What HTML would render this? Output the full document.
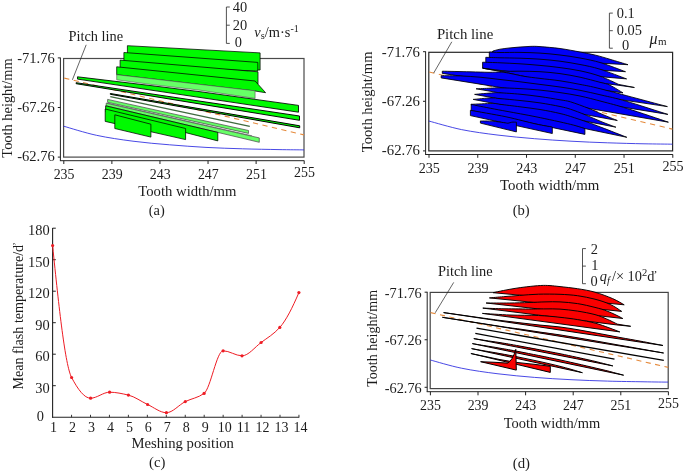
<!DOCTYPE html>
<html><head><meta charset="utf-8"><title>Figure</title>
<style>
html,body{margin:0;padding:0;background:#fff;}
svg{display:block;font-family:"Liberation Serif",serif;fill:#1c1c1c;}
</style></head><body>
<svg width="685" height="471" viewBox="0 0 685 471">
<rect width="685" height="471" fill="#fff"/>
<rect x="63.6" y="58.5" width="240.4" height="98.6" fill="none" stroke="#4a4a4a" stroke-width="1.2"/>
<line x1="60.4" y1="57.6" x2="60.4" y2="160.7" stroke="#222" stroke-width="1" />
<line x1="59.9" y1="160.7" x2="304.3" y2="160.7" stroke="#222" stroke-width="1" />
<line x1="57.8" y1="57.9" x2="60.4" y2="57.9" stroke="#222" stroke-width="1" />
<text x="54.8" y="63.1" font-size="14.57" text-anchor="end" >-71.76</text>
<line x1="57.8" y1="107.5" x2="60.4" y2="107.5" stroke="#222" stroke-width="1" />
<text x="54.8" y="112.05" font-size="14.57" text-anchor="end" >-67.26</text>
<line x1="57.8" y1="157.1" x2="60.4" y2="157.1" stroke="#222" stroke-width="1" />
<text x="54.8" y="161.0" font-size="14.57" text-anchor="end" >-62.76</text>
<line x1="63.800000000000004" y1="160.7" x2="63.800000000000004" y2="164.0" stroke="#222" stroke-width="1" />
<text x="64.10000000000001" y="178.5" font-size="13.92" text-anchor="middle" >235</text>
<line x1="111.88" y1="160.7" x2="111.88" y2="164.0" stroke="#222" stroke-width="1" />
<text x="112.17999999999999" y="178.5" font-size="13.92" text-anchor="middle" >239</text>
<line x1="159.96" y1="160.7" x2="159.96" y2="164.0" stroke="#222" stroke-width="1" />
<text x="160.26000000000002" y="178.5" font-size="13.92" text-anchor="middle" >243</text>
<line x1="208.04000000000002" y1="160.7" x2="208.04000000000002" y2="164.0" stroke="#222" stroke-width="1" />
<text x="208.34000000000003" y="178.5" font-size="13.92" text-anchor="middle" >247</text>
<line x1="256.12" y1="160.7" x2="256.12" y2="164.0" stroke="#222" stroke-width="1" />
<text x="256.42" y="178.5" font-size="13.92" text-anchor="middle" >251</text>
<line x1="304.2" y1="160.7" x2="304.2" y2="164.0" stroke="#222" stroke-width="1" />
<text x="304.5" y="176.8" font-size="13.92" text-anchor="middle" >255</text>
<text x="187.4" y="195.7" font-size="14.69" text-anchor="middle" >Tooth width/mm</text>
<text x="156.8" y="215.4" font-size="14.4" text-anchor="middle" >(a)</text>
<text transform="translate(12,108.0) rotate(-90)" font-size="14.4" text-anchor="middle">Tooth height/mm</text>
<g clip-path="none">
<path d="M63.6,126.2 C69.1,127.7 84.9,132.8 96.5,135.3 C108.1,137.8 120.8,139.6 133.0,141.2 C145.2,142.8 157.3,143.8 169.5,144.8 C181.7,145.8 193.8,146.7 206.0,147.4 C218.2,148.1 230.3,148.4 242.5,148.8 C254.7,149.2 268.8,149.4 279.0,149.6 C289.2,149.8 299.8,149.8 304.0,149.9" fill="none" stroke="#2828e0" stroke-width="0.85" />
<line x1="64.2" y1="78.1" x2="304" y2="134.9" stroke="#e58a3c" stroke-width="1.1" stroke-dasharray="5.25,4.45"/>
<polygon points="127.4,45.7 260.1,52.9 260.1,70.0 127.4,60.0" fill="#00fa00" stroke="#000" stroke-width="0.75" stroke-linejoin="miter" />
<polygon points="123.9,52.5 257.8,62.4 257.8,71.0 123.9,66.0" fill="#00fa00" stroke="#000" stroke-width="0.75" stroke-linejoin="miter" />
<polygon points="120.1,60.1 258.0,71.8 258.0,84.0 120.1,72.0" fill="#00fa00" stroke="#000" stroke-width="0.75" stroke-linejoin="miter" />
<polygon points="116.7,66.8 255.1,81.0 265.6,92.7 255.1,91.0 116.7,74.7" fill="#00fa00" stroke="#000" stroke-width="0.75" stroke-linejoin="miter" />
<polygon points="116.7,74.7 150.0,78.6 255.1,90.8 255.1,98.4 200.0,90.2 150.0,84.3 116.7,79.8" fill="#66ff66" stroke="#555" stroke-width="0.6" stroke-linejoin="miter" />
<polygon points="77.5,76.8 150.0,85.5 200.0,91.7 298.5,105.4 298.5,112.2 77.5,79.1" fill="#00fa00" stroke="#000" stroke-width="0.85" stroke-linejoin="miter" />
<polygon points="76.1,82.7 299.5,116.0 299.5,120.3 76.1,83.7" fill="#00fa00" stroke="#000" stroke-width="0.95" stroke-linejoin="miter" />
<polygon points="110.3,93.5 299.7,125.8 299.7,127.8 110.3,94.3" fill="#00fa00" stroke="#000" stroke-width="1.0" stroke-linejoin="miter" />
<line x1="110.3" y1="96.7" x2="249.8" y2="126.3" stroke="#3f6a3f" stroke-width="1.25" />
<polygon points="107.6,99.4 248.5,130.5 248.5,133.4 107.6,102.3" fill="#66ff66" stroke="#444" stroke-width="0.7" stroke-linejoin="miter" />
<line x1="106.7" y1="102.9" x2="252" y2="135.8" stroke="#777" stroke-width="0.8" />
<polygon points="106.2,103.2 259.3,137.9 259.3,142.3 106.2,105.8" fill="#66ff66" stroke="#444" stroke-width="0.7" stroke-linejoin="miter" />
<polygon points="105.6,105.8 217.8,132.4 217.8,140.9 105.6,112.0" fill="#00fa00" stroke="#000" stroke-width="0.75" stroke-linejoin="miter" />
<polygon points="105.2,109.0 185.6,128.5 185.6,139.6 105.2,121.4" fill="#00fa00" stroke="#000" stroke-width="0.75" stroke-linejoin="miter" />
<polygon points="114.8,114.8 150.9,124.2 150.9,137.1 114.8,128.5" fill="#00fa00" stroke="#000" stroke-width="0.75" stroke-linejoin="miter" />
</g>
<text x="68.4" y="41.2" font-size="14.4" text-anchor="start" >Pitch line</text>
<line x1="86.2" y1="44.8" x2="72.4" y2="79.8" stroke="#222" stroke-width="0.7" />
<path d="M229.8,7 H226.4 V43.4 H229.8 M226.4,25.2 H229.8" fill="none" stroke="#333" stroke-width="0.85" />
<text x="232.8" y="12.4" font-size="14.4" text-anchor="start" >40</text>
<text x="232.8" y="29.9" font-size="14.4" text-anchor="start" >20</text>
<text x="234.8" y="46.7" font-size="14.4" text-anchor="start" >0</text>
<text x="254.3" y="37.2" font-size="14.4"><tspan font-style="italic">v</tspan><tspan font-size="10.5" dy="2">s</tspan><tspan dy="-2">/m·s</tspan><tspan font-size="10" dy="-5.5">-1</tspan></text>
<rect x="428.8" y="52.3" width="243.8" height="98.6" fill="none" stroke="#262626" stroke-width="1.2"/>
<line x1="425.6" y1="51.4" x2="425.6" y2="154.49999999999997" stroke="#222" stroke-width="1" />
<line x1="425.1" y1="154.49999999999997" x2="672.9" y2="154.49999999999997" stroke="#222" stroke-width="1" />
<line x1="423.0" y1="51.699999999999996" x2="425.6" y2="51.699999999999996" stroke="#222" stroke-width="1" />
<text x="420.0" y="57.4" font-size="14.78" text-anchor="end" >-71.76</text>
<line x1="423.0" y1="101.3" x2="425.6" y2="101.3" stroke="#222" stroke-width="1" />
<text x="420.0" y="106.35" font-size="14.78" text-anchor="end" >-67.26</text>
<line x1="423.0" y1="150.9" x2="425.6" y2="150.9" stroke="#222" stroke-width="1" />
<text x="420.0" y="155.29999999999998" font-size="14.78" text-anchor="end" >-62.76</text>
<line x1="429.0" y1="154.49999999999997" x2="429.0" y2="157.79999999999998" stroke="#222" stroke-width="1" />
<text x="429.3" y="172.6" font-size="14.12" text-anchor="middle" >235</text>
<line x1="477.76" y1="154.49999999999997" x2="477.76" y2="157.79999999999998" stroke="#222" stroke-width="1" />
<text x="478.06" y="172.6" font-size="14.12" text-anchor="middle" >239</text>
<line x1="526.52" y1="154.49999999999997" x2="526.52" y2="157.79999999999998" stroke="#222" stroke-width="1" />
<text x="526.8199999999999" y="172.6" font-size="14.12" text-anchor="middle" >243</text>
<line x1="575.28" y1="154.49999999999997" x2="575.28" y2="157.79999999999998" stroke="#222" stroke-width="1" />
<text x="575.5799999999999" y="172.6" font-size="14.12" text-anchor="middle" >247</text>
<line x1="624.04" y1="154.49999999999997" x2="624.04" y2="157.79999999999998" stroke="#222" stroke-width="1" />
<text x="624.3399999999999" y="172.6" font-size="14.12" text-anchor="middle" >251</text>
<line x1="672.8" y1="154.49999999999997" x2="672.8" y2="157.79999999999998" stroke="#222" stroke-width="1" />
<text x="673.0999999999999" y="170.79999999999998" font-size="14.12" text-anchor="middle" >255</text>
<text x="549.7" y="190.1" font-size="14.89" text-anchor="middle" >Tooth width/mm</text>
<text x="521.2" y="215.3" font-size="14.6" text-anchor="middle" >(b)</text>
<text transform="translate(372.2,101.8) rotate(-90)" font-size="14.6" text-anchor="middle">Tooth height/mm</text>
<path d="M428.8,121.0 C434.2,122.4 450.0,127.2 461.5,129.6 C473.0,131.9 485.8,133.6 498.0,135.1 C510.2,136.6 522.3,137.7 534.5,138.7 C546.7,139.7 558.8,140.5 571.0,141.2 C583.2,141.9 595.3,142.4 607.5,142.8 C619.7,143.2 633.2,143.6 644.0,143.8 C654.8,144.0 667.7,144.1 672.4,144.2" fill="none" stroke="#2828e0" stroke-width="0.85" />
<line x1="429.2" y1="72.0" x2="672.4" y2="129.1" stroke="#e58a3c" stroke-width="1.1" stroke-dasharray="5.3,4.56"/>
<path d="M492.8,51.1 C494.0,50.8 497.1,49.7 500.0,49.2 C502.9,48.7 506.7,48.3 510.0,47.9 C513.3,47.5 516.7,47.2 520.0,47.0 C523.3,46.8 526.7,46.5 530.0,46.4 C533.3,46.3 535.0,46.2 540.0,46.6 C545.0,47.0 553.3,47.6 560.0,48.5 C566.7,49.4 574.0,50.9 580.0,52.0 C586.0,53.1 590.7,54.0 595.7,55.2 C600.7,56.4 604.6,57.7 610.0,59.3 C615.4,60.9 625.0,63.8 628.0,64.7 L492.8,57.4 Z" fill="#0000f8" stroke="#000" stroke-width="0.85" stroke-linejoin="miter" stroke-miterlimit="10" />
<path d="M492.8,57.4 V51.1" fill="none" stroke="#000" stroke-width="0.9" />
<path d="M489.3,52.0 C491.1,52.1 494.9,52.4 500.0,52.5 C505.1,52.6 513.3,52.3 520.0,52.4 C526.7,52.5 533.3,52.7 540.0,53.1 C546.7,53.5 553.3,54.2 560.0,55.0 C566.7,55.8 573.2,56.7 580.0,58.0 C586.8,59.3 593.4,60.5 601.0,62.8 C608.6,65.1 621.4,70.2 625.5,71.7 L489.3,63.5 Z" fill="#0000f8" stroke="#000" stroke-width="0.85" stroke-linejoin="miter" stroke-miterlimit="10" />
<path d="M485.8,57.3 C488.2,57.4 494.3,57.6 500.0,57.8 C505.7,57.9 513.3,58.0 520.0,58.2 C526.7,58.4 533.3,58.7 540.0,59.2 C546.7,59.7 553.3,60.3 560.0,61.2 C566.7,62.1 573.3,63.2 580.0,64.5 C586.7,65.8 592.2,66.8 600.0,69.2 C607.8,71.6 622.2,77.3 626.6,78.9 L485.8,67.0 Z" fill="#0000f8" stroke="#000" stroke-width="0.85" stroke-linejoin="miter" stroke-miterlimit="10" />
<path d="M482.6,62.2 C485.5,62.3 493.8,62.5 500.0,62.8 C506.2,63.1 513.3,63.4 520.0,63.8 C526.7,64.2 533.3,64.8 540.0,65.4 C546.7,66.0 553.3,66.7 560.0,67.6 C566.7,68.5 573.3,69.4 580.0,70.8 C586.7,72.2 593.5,73.9 600.0,76.2 C606.5,78.5 615.6,83.0 618.7,84.4 L634.4,87.5 L618.0,85.2 L482.6,68.2 Z" fill="#0000f8" stroke="#000" stroke-width="0.85" stroke-linejoin="miter" stroke-miterlimit="10" />
<path d="M482.6,68.2 C485.8,68.7 495.3,70.6 501.5,71.1 C507.7,71.6 513.6,71.1 520.0,71.2 C526.4,71.3 533.3,71.3 540.0,71.7 C546.7,72.1 553.3,72.7 560.0,73.6 C566.7,74.5 573.3,75.8 580.0,77.2 C586.7,78.7 595.0,81.0 600.0,82.3 C605.0,83.6 606.2,83.4 610.0,85.2 C613.8,87.0 620.8,91.6 623.0,92.9 L560.0,84.2 L501.5,71.6 Z" fill="#0000f8" stroke="#000" stroke-width="0.85" stroke-linejoin="miter" stroke-miterlimit="10" />
<path d="M442.3,71.2 C446.9,71.3 462.2,71.6 470.0,71.8 C477.8,72.0 483.8,72.2 489.0,72.3 C494.2,72.3 497.8,71.9 501.5,72.1 C505.2,72.3 507.2,72.9 511.0,73.6 C514.8,74.3 519.2,75.5 524.0,76.3 C528.8,77.1 534.0,77.7 540.0,78.4 C546.0,79.2 553.3,79.8 560.0,80.8 C566.7,81.8 573.0,83.0 580.0,84.4 C587.0,85.8 587.4,85.5 602.0,89.2 C616.6,92.9 656.5,103.7 667.4,106.6 L442.3,73.4 Z" fill="#0000f8" stroke="#000" stroke-width="0.85" stroke-linejoin="miter" stroke-miterlimit="10" />
<path d="M441.2,75.7 C444.4,75.7 454.0,75.7 460.5,75.9 C467.0,76.2 473.4,76.6 480.0,77.2 C486.6,77.8 493.3,78.7 500.0,79.5 C506.7,80.3 513.3,81.0 520.0,81.8 C526.7,82.6 533.3,83.5 540.0,84.4 C546.7,85.3 553.3,86.0 560.0,87.0 C566.7,88.0 573.0,88.9 580.0,90.3 C587.0,91.7 594.4,93.4 602.0,95.2 C609.6,97.0 614.5,97.8 625.5,101.0 C636.5,104.2 660.8,112.2 667.9,114.4 L441.2,77.9 Z" fill="#0000f8" stroke="#000" stroke-width="0.85" stroke-linejoin="miter" stroke-miterlimit="10" />
<path d="M476.1,88.8 C478.4,88.7 486.0,88.4 490.0,88.2 C494.0,88.0 495.0,87.7 500.0,87.8 C505.0,87.9 513.3,88.2 520.0,88.6 C526.7,89.0 533.3,89.4 540.0,90.1 C546.7,90.8 553.3,91.6 560.0,92.6 C566.7,93.6 573.0,94.5 580.0,96.0 C587.0,97.5 594.1,99.4 602.0,101.5 C609.9,103.6 616.4,105.1 627.5,108.6 C638.6,112.0 661.6,119.9 668.4,122.2 Z" fill="#0000f8" stroke="#000" stroke-width="0.85" stroke-linejoin="miter" stroke-miterlimit="10" />
<path d="M474.6,94.4 C477.7,94.1 489.0,93.1 493.2,92.8 C497.4,92.5 495.5,92.6 500.0,92.8 C504.5,93.0 513.3,93.6 520.0,94.2 C526.7,94.8 533.3,95.7 540.0,96.6 C546.7,97.5 554.9,98.9 560.0,99.8 C565.1,100.7 565.9,100.5 570.7,101.9 C575.5,103.4 583.8,106.5 589.0,108.5 C594.2,110.5 597.3,112.2 602.0,114.2 C606.7,116.2 614.8,119.5 617.3,120.5 Z" fill="#0000f8" stroke="#000" stroke-width="0.85" stroke-linejoin="miter" stroke-miterlimit="10" />
<path d="M473.2,99.4 C476.2,99.2 486.7,98.0 491.2,97.9 C495.7,97.8 495.2,98.2 500.0,98.6 C504.8,99.0 513.3,99.8 520.0,100.5 C526.7,101.2 533.3,101.9 540.0,102.9 C546.7,103.9 554.9,105.4 560.0,106.5 C565.1,107.6 566.5,107.9 570.7,109.3 C574.9,110.7 579.8,112.6 585.0,114.7 C590.2,116.8 596.9,119.8 602.0,121.9 C607.1,124.0 613.6,126.3 615.9,127.2 Z" fill="#0000f8" stroke="#000" stroke-width="0.85" stroke-linejoin="miter" stroke-miterlimit="10" />
<path d="M471.2,104.3 C474.7,104.2 487.4,103.4 492.2,103.4 C497.0,103.4 495.4,103.7 500.0,104.3 C504.6,104.9 513.3,105.9 520.0,106.8 C526.7,107.7 533.3,108.4 540.0,109.5 C546.7,110.6 554.9,112.3 560.0,113.5 C565.1,114.7 566.0,115.0 570.7,116.5 C575.4,118.0 582.8,120.5 588.0,122.3 C593.2,124.1 595.5,125.1 602.0,127.6 C608.5,130.1 622.7,135.7 626.8,137.3 L471.2,105.0 Z" fill="#0000f8" stroke="#000" stroke-width="0.85" stroke-linejoin="miter" stroke-miterlimit="10" />
<path d="M471.2,104.3 C472.3,104.5 472.1,104.6 477.9,105.8 C483.7,107.0 496.3,109.4 506.0,111.2 C515.7,113.0 525.2,114.6 536.0,116.8 C546.8,119.0 562.6,122.4 570.7,124.4 C578.9,126.4 582.5,127.9 584.9,128.6 L584.9,134.4 L471.2,110.5 Z" fill="#0000f8" stroke="#000" stroke-width="0.85" stroke-linejoin="miter" stroke-miterlimit="10" />
<path d="M470.4,110.3 C476.3,111.4 495.1,114.5 506.0,116.8 C516.9,119.1 528.3,122.3 536.0,124.0 C543.7,125.7 549.6,126.5 552.3,127.0 L552.3,133.5 L470.4,115.6 Z" fill="#0000f8" stroke="#000" stroke-width="0.85" stroke-linejoin="miter" stroke-miterlimit="10" />
<path d="M480.4,120.9 C482.5,121.0 488.9,120.9 492.8,121.2 C496.7,121.5 501.1,122.3 503.7,122.6 C506.2,122.9 506.8,123.3 508.1,123.2 C509.5,123.1 510.4,122.4 511.8,122.2 C513.2,122.0 515.6,122.2 516.4,122.2 L516.4,131.9 L480.4,123.1 Z" fill="#0000f8" stroke="#000" stroke-width="0.85" stroke-linejoin="miter" stroke-miterlimit="10" />
<text x="436.9" y="38.5" font-size="14.8" text-anchor="start" >Pitch line</text>
<line x1="451.8" y1="41.8" x2="433.7" y2="73" stroke="#222" stroke-width="0.7" />
<path d="M612.8,13.1 H609.4 V48.2 H612.8 M609.4,30.7 H612.8" fill="none" stroke="#333" stroke-width="0.85" />
<text x="616.8" y="17.5" font-size="14.4" text-anchor="start" >0.1</text>
<text x="616.8" y="35" font-size="14.4" text-anchor="start" >0.05</text>
<text x="622" y="50.4" font-size="14.4" text-anchor="start" >0</text>
<text x="649.5" y="43.8" font-size="14.4"><tspan font-style="italic" font-size="16">μ</tspan><tspan font-size="11" dy="1.5" dx="0.5">m</tspan></text>
<rect x="430.2" y="292.4" width="238.0" height="96.2" fill="none" stroke="#444" stroke-width="1.2"/>
<line x1="427.2" y1="291.79999999999995" x2="427.2" y2="391.7" stroke="#222" stroke-width="1" />
<line x1="426.7" y1="391.7" x2="668.5" y2="391.7" stroke="#222" stroke-width="1" />
<line x1="424.59999999999997" y1="292.2" x2="427.2" y2="292.2" stroke="#222" stroke-width="1" />
<text x="421.7" y="297.7" font-size="14.3" text-anchor="end" >-71.76</text>
<line x1="424.59999999999997" y1="339.75" x2="427.2" y2="339.75" stroke="#222" stroke-width="1" />
<text x="421.7" y="345.25" font-size="14.3" text-anchor="end" >-67.26</text>
<line x1="424.59999999999997" y1="387.29999999999995" x2="427.2" y2="387.29999999999995" stroke="#222" stroke-width="1" />
<text x="421.7" y="392.79999999999995" font-size="14.3" text-anchor="end" >-62.76</text>
<line x1="430.4" y1="391.7" x2="430.4" y2="395.3" stroke="#222" stroke-width="1" />
<text x="430.5" y="409.5" font-size="13.9" text-anchor="middle" >235</text>
<line x1="478.0" y1="391.7" x2="478.0" y2="395.3" stroke="#222" stroke-width="1" />
<text x="478.1" y="409.5" font-size="13.9" text-anchor="middle" >239</text>
<line x1="525.6" y1="391.7" x2="525.6" y2="395.3" stroke="#222" stroke-width="1" />
<text x="525.7" y="409.5" font-size="13.9" text-anchor="middle" >243</text>
<line x1="573.2" y1="391.7" x2="573.2" y2="395.3" stroke="#222" stroke-width="1" />
<text x="573.3000000000001" y="409.5" font-size="13.9" text-anchor="middle" >247</text>
<line x1="620.8" y1="391.7" x2="620.8" y2="395.3" stroke="#222" stroke-width="1" />
<text x="620.9" y="409.5" font-size="13.9" text-anchor="middle" >251</text>
<line x1="668.4" y1="391.7" x2="668.4" y2="395.3" stroke="#222" stroke-width="1" />
<text x="668.5" y="407.6" font-size="13.9" text-anchor="middle" >255</text>
<text x="551.9" y="427.9" font-size="14.45" text-anchor="middle" >Tooth width/mm</text>
<text x="521.4" y="467.5" font-size="14.8" text-anchor="middle" >(d)</text>
<text transform="translate(377.0,338.4) rotate(-90)" font-size="14.05" text-anchor="middle">Tooth height/mm</text>
<path d="M430.4,360.0 C435.6,361.4 450.2,365.9 461.5,368.2 C472.8,370.5 485.8,372.3 498.0,373.8 C510.2,375.3 522.3,376.4 534.5,377.4 C546.7,378.4 558.8,379.1 571.0,379.7 C583.2,380.3 595.3,380.8 607.5,381.1 C619.7,381.5 633.9,381.6 644.0,381.8 C654.1,382.0 664.0,382.1 668.0,382.1" fill="none" stroke="#2828e0" stroke-width="0.85" />
<line x1="430.6" y1="312.6" x2="668.2" y2="367.4" stroke="#e58a3c" stroke-width="1.1" stroke-dasharray="5.1,4.5"/>
<path d="M493.2,292.7 C494.9,292.3 499.8,291.2 503.4,290.5 C507.0,289.8 511.1,289.0 515.0,288.4 C518.9,287.8 522.4,287.3 526.7,286.8 C531.0,286.3 536.8,285.7 540.7,285.5 C544.6,285.3 546.8,285.4 550.0,285.6 C553.2,285.8 555.4,286.1 560.0,286.6 C564.6,287.1 571.7,287.8 577.5,288.7 C583.3,289.6 589.1,290.5 595.0,292.2 C600.9,293.9 607.7,296.5 612.6,298.6 C617.5,300.7 622.3,303.8 624.2,304.8 Z" fill="#fa0000" stroke="#000" stroke-width="0.95" stroke-linejoin="miter" stroke-miterlimit="10" />
<path d="M489.4,297.9 C491.7,297.7 498.3,297.1 503.4,296.7 C508.4,296.3 513.9,295.8 519.7,295.4 C525.5,295.0 531.7,294.4 538.4,294.2 C545.1,294.0 553.5,294.1 560.0,294.3 C566.5,294.6 571.7,294.9 577.5,295.7 C583.3,296.5 589.5,297.8 595.0,299.2 C600.5,300.6 605.8,302.4 610.2,304.4 C614.7,306.4 619.8,310.2 621.7,311.4 Z" fill="#fa0000" stroke="#000" stroke-width="0.95" stroke-linejoin="miter" stroke-miterlimit="10" />
<path d="M486.1,303.0 C490.0,303.0 502.1,303.1 509.2,303.0 C516.4,302.9 523.0,302.7 529.0,302.5 C535.0,302.3 539.8,302.0 545.0,301.9 C550.2,301.8 554.6,301.6 560.0,301.9 C565.4,302.2 571.7,302.7 577.5,303.6 C583.3,304.5 590.1,306.2 595.0,307.4 C599.9,308.6 603.2,309.6 606.7,310.9 C610.2,312.2 613.3,313.7 616.0,315.0 C618.7,316.3 621.7,317.9 622.8,318.5 Z" fill="#fa0000" stroke="#000" stroke-width="0.95" stroke-linejoin="miter" stroke-miterlimit="10" />
<path d="M482.8,308.1 C486.5,308.2 496.9,308.7 505.0,308.8 C513.1,308.9 524.7,309.0 531.4,309.0 C538.1,309.0 540.2,308.9 545.0,308.9 C549.8,308.9 554.6,308.7 560.0,309.1 C565.4,309.5 571.7,310.2 577.5,311.1 C583.3,312.0 590.1,313.3 595.0,314.6 C599.9,315.9 603.0,317.4 606.7,319.0 C610.4,320.6 615.5,323.2 617.2,324.1 L630.7,326.3 L616.5,324.9 Z" fill="#fa0000" stroke="#000" stroke-width="0.95" stroke-linejoin="miter" stroke-miterlimit="10" />
<path d="M482.4,313.4 C487.0,313.7 500.7,314.6 510.0,315.0 C519.3,315.4 530.1,315.1 538.4,315.5 C546.7,315.9 553.5,316.6 560.0,317.3 C566.5,318.0 571.7,318.6 577.5,319.6 C583.3,320.6 589.8,321.7 595.0,323.1 C600.2,324.5 604.9,326.3 609.0,327.8 C613.1,329.3 618.0,331.2 619.8,331.9 Z" fill="#fa0000" stroke="#000" stroke-width="0.95" stroke-linejoin="miter" stroke-miterlimit="10" />
<path d="M443.6,312.6 C449.7,313.4 470.6,316.4 480.0,317.7 C489.4,319.0 493.3,319.5 500.0,320.4 C506.7,321.2 513.3,322.0 520.0,322.8 C526.7,323.5 533.3,324.4 540.0,325.1 C546.7,325.8 553.3,326.1 560.0,327.0 C566.7,327.8 573.3,328.9 580.0,330.1 C586.7,331.2 593.3,332.4 600.0,333.7 C606.7,334.9 613.3,336.2 620.0,337.5 C626.7,338.7 634.7,340.1 640.0,341.1 C645.3,342.0 648.2,342.6 652.0,343.4 C655.8,344.1 661.2,345.1 663.0,345.5 Z" fill="#fa0000" stroke="#000" stroke-width="1.0" stroke-linejoin="miter" stroke-miterlimit="10" />
<path d="M442.4,317.3 C452.0,318.8 487.1,324.3 500.0,326.3 C512.9,328.3 513.3,328.2 520.0,329.1 C526.7,330.1 533.3,331.1 540.0,332.1 C546.7,333.0 553.3,333.9 560.0,334.9 C566.7,335.9 573.3,337.1 580.0,338.2 C586.7,339.4 593.3,340.6 600.0,341.7 C606.7,342.9 613.3,344.1 620.0,345.3 C626.7,346.4 632.7,347.5 640.0,348.8 C647.3,350.1 659.7,352.3 663.6,353.0 Z" fill="#fa0000" stroke="#000" stroke-width="1.0" stroke-linejoin="miter" stroke-miterlimit="10" />
<line x1="476.5" y1="328.1" x2="663.8" y2="360.4" stroke="#000" stroke-width="1.3" />
<line x1="475.3" y1="333.4" x2="614.5" y2="359.2" stroke="#000" stroke-width="1.3" />
<path d="M473.8,338.6 C475.7,338.9 480.6,339.7 485.0,340.4 C489.4,341.1 494.2,341.7 500.0,342.6 C505.8,343.6 510.0,344.2 520.0,346.1 C530.0,347.9 548.3,351.4 560.0,353.7 C571.7,356.1 582.5,358.5 590.0,360.2 C597.5,361.9 601.2,362.9 605.0,363.9 C608.8,364.8 611.5,365.6 612.8,365.9 Z" fill="#fa0000" stroke="#000" stroke-width="1.0" stroke-linejoin="miter" stroke-miterlimit="10" />
<path d="M472.4,343.6 C474.5,344.0 480.4,345.0 485.0,345.7 C489.6,346.5 494.2,347.1 500.0,348.2 C505.8,349.2 510.0,349.9 520.0,351.8 C530.0,353.8 546.7,357.0 560.0,359.9 C573.3,362.8 590.8,366.9 600.0,369.1 C609.2,371.2 611.1,371.9 615.0,372.9 C618.9,373.9 622.2,374.8 623.6,375.2 Z" fill="#fa0000" stroke="#000" stroke-width="1.0" stroke-linejoin="miter" stroke-miterlimit="10" />
<path d="M471.6,348.6 C473.8,349.0 480.3,350.2 485.0,351.0 C489.7,351.8 494.2,352.5 500.0,353.6 C505.8,354.6 511.7,355.7 520.0,357.4 C528.3,359.1 541.7,361.9 550.0,363.9 C558.3,365.8 564.6,367.5 570.0,369.0 C575.4,370.5 580.3,372.1 582.4,372.7 Z" fill="#fa0000" stroke="#000" stroke-width="1.0" stroke-linejoin="miter" stroke-miterlimit="10" />
<polygon points="470.9,353.5 500.0,359.6 516.4,362.4 535.0,364.4 550.3,366.3 550.3,372.4" fill="#fa0000" stroke="#000" stroke-width="1.0" stroke-linejoin="miter" />
<path d="M480.6,361.7 L495,362.3 L507.5,363.1 Q512.3,361.0 515.8,349.4 L516.3,370.1 Z" fill="#fa0000" stroke="#000" stroke-width="1.0" stroke-linejoin="miter"/>
<text x="437.9" y="275.9" font-size="14.4" text-anchor="start" >Pitch line</text>
<line x1="453.7" y1="282.4" x2="435.2" y2="312.8" stroke="#222" stroke-width="0.7" />
<path d="M585.9,248.6 H582.5 V283.7 H585.9 M582.5,266.1 H585.9" fill="none" stroke="#333" stroke-width="0.85" />
<text x="590.8" y="253.5" font-size="14.4" text-anchor="start" >2</text>
<text x="591.3" y="270.2" font-size="14.4" text-anchor="start" >1</text>
<text x="590.6" y="285.9" font-size="14.4" text-anchor="start" >0</text>
<text x="599.8" y="281.2" font-size="14.4"><tspan font-style="italic">q</tspan><tspan font-style="italic" font-size="10.5" dy="2.5">f</tspan><tspan dy="-2.5" dx="2">/×</tspan><tspan dx="3.5">10</tspan><tspan font-size="10.5" dy="-5.5">2</tspan><tspan dy="5.5">ď</tspan></text>
<line x1="52.6" y1="228" x2="52.6" y2="417.7" stroke="#222" stroke-width="1.1" />
<line x1="52.1" y1="417.2" x2="299.3" y2="417.2" stroke="#222" stroke-width="1.1" />
<text x="53.6" y="432.0" font-size="14.0" text-anchor="middle" >1</text>
<line x1="71.55" y1="417.2" x2="71.55" y2="414.8" stroke="#222" stroke-width="0.9" />
<text x="72.55" y="432.0" font-size="14.0" text-anchor="middle" >2</text>
<line x1="90.5" y1="417.2" x2="90.5" y2="414.8" stroke="#222" stroke-width="0.9" />
<text x="91.5" y="432.0" font-size="14.0" text-anchor="middle" >3</text>
<line x1="109.44999999999999" y1="417.2" x2="109.44999999999999" y2="414.8" stroke="#222" stroke-width="0.9" />
<text x="110.44999999999999" y="432.0" font-size="14.0" text-anchor="middle" >4</text>
<line x1="128.4" y1="417.2" x2="128.4" y2="414.8" stroke="#222" stroke-width="0.9" />
<text x="129.4" y="432.0" font-size="14.0" text-anchor="middle" >5</text>
<line x1="147.35" y1="417.2" x2="147.35" y2="414.8" stroke="#222" stroke-width="0.9" />
<text x="148.35" y="432.0" font-size="14.0" text-anchor="middle" >6</text>
<line x1="166.29999999999998" y1="417.2" x2="166.29999999999998" y2="414.8" stroke="#222" stroke-width="0.9" />
<text x="167.29999999999998" y="432.0" font-size="14.0" text-anchor="middle" >7</text>
<line x1="185.25" y1="417.2" x2="185.25" y2="414.8" stroke="#222" stroke-width="0.9" />
<text x="186.25" y="432.0" font-size="14.0" text-anchor="middle" >8</text>
<line x1="204.2" y1="417.2" x2="204.2" y2="414.8" stroke="#222" stroke-width="0.9" />
<text x="205.2" y="432.0" font-size="14.0" text-anchor="middle" >9</text>
<line x1="223.14999999999998" y1="417.2" x2="223.14999999999998" y2="414.8" stroke="#222" stroke-width="0.9" />
<text x="224.64999999999998" y="432.0" font-size="14.0" text-anchor="middle" >10</text>
<line x1="242.1" y1="417.2" x2="242.1" y2="414.8" stroke="#222" stroke-width="0.9" />
<text x="243.6" y="432.0" font-size="14.0" text-anchor="middle" >11</text>
<line x1="261.05" y1="417.2" x2="261.05" y2="414.8" stroke="#222" stroke-width="0.9" />
<text x="262.55" y="432.0" font-size="14.0" text-anchor="middle" >12</text>
<line x1="280.0" y1="417.2" x2="280.0" y2="414.8" stroke="#222" stroke-width="0.9" />
<text x="281.5" y="432.0" font-size="14.0" text-anchor="middle" >13</text>
<line x1="298.95" y1="417.2" x2="298.95" y2="414.8" stroke="#222" stroke-width="0.9" />
<text x="300.45" y="432.0" font-size="14.0" text-anchor="middle" >14</text>
<text x="44.0" y="421.0" font-size="14.4" text-anchor="end" >0</text>
<line x1="52.6" y1="385.7" x2="55.800000000000004" y2="385.7" stroke="#222" stroke-width="1" />
<text x="49.6" y="392.59999999999997" font-size="14.4" text-anchor="end" >30</text>
<line x1="52.6" y1="354.2" x2="55.800000000000004" y2="354.2" stroke="#222" stroke-width="1" />
<text x="49.6" y="361.09999999999997" font-size="14.4" text-anchor="end" >60</text>
<line x1="52.6" y1="322.7" x2="55.800000000000004" y2="322.7" stroke="#222" stroke-width="1" />
<text x="49.6" y="329.59999999999997" font-size="14.4" text-anchor="end" >90</text>
<line x1="52.6" y1="291.2" x2="55.800000000000004" y2="291.2" stroke="#222" stroke-width="1" />
<text x="49.6" y="298.09999999999997" font-size="14.4" text-anchor="end" >120</text>
<line x1="52.6" y1="259.7" x2="55.800000000000004" y2="259.7" stroke="#222" stroke-width="1" />
<text x="49.6" y="266.59999999999997" font-size="14.4" text-anchor="end" >150</text>
<line x1="52.6" y1="228.2" x2="55.800000000000004" y2="228.2" stroke="#222" stroke-width="1" />
<text x="49.6" y="235.1" font-size="14.4" text-anchor="end" >180</text>
<path d="M52.6,245.5 C58.93,308.05 65.27,365.57 71.6,377.5 C77.93,389.43 84.27,398.20 90.6,398.2 C96.93,398.20 103.27,392.20 109.6,392.2 C115.87,392.20 122.13,393.63 128.4,395.1 C134.80,396.60 141.20,401.55 147.6,404.5 C153.87,407.39 160.13,412.70 166.4,412.7 C172.70,412.70 179.00,404.75 185.3,401.6 C191.57,398.46 197.83,397.97 204.1,393.4 C210.43,388.78 216.77,350.80 223.1,350.8 C229.40,350.80 235.70,355.80 242,355.8 C248.37,355.80 254.73,347.26 261.1,342.5 C267.33,337.84 273.57,334.37 279.8,327.4 C286.17,320.29 292.53,307.46 298.9,292.6" fill="none" stroke="#ee1c24" stroke-width="1.0" />
<circle cx="52.6" cy="245.5" r="1.6" fill="#ee1c24"/>
<circle cx="71.6" cy="377.5" r="1.6" fill="#ee1c24"/>
<circle cx="90.6" cy="398.2" r="1.6" fill="#ee1c24"/>
<circle cx="109.6" cy="392.2" r="1.6" fill="#ee1c24"/>
<circle cx="128.4" cy="395.1" r="1.6" fill="#ee1c24"/>
<circle cx="147.6" cy="404.5" r="1.6" fill="#ee1c24"/>
<circle cx="166.4" cy="412.7" r="1.6" fill="#ee1c24"/>
<circle cx="185.3" cy="401.6" r="1.6" fill="#ee1c24"/>
<circle cx="204.1" cy="393.4" r="1.6" fill="#ee1c24"/>
<circle cx="223.1" cy="350.8" r="1.6" fill="#ee1c24"/>
<circle cx="242" cy="355.8" r="1.6" fill="#ee1c24"/>
<circle cx="261.1" cy="342.5" r="1.6" fill="#ee1c24"/>
<circle cx="279.8" cy="327.4" r="1.6" fill="#ee1c24"/>
<circle cx="298.9" cy="292.6" r="1.6" fill="#ee1c24"/>
<text x="182.7" y="447.6" font-size="14.7" text-anchor="middle" >Meshing position</text>
<text x="157.2" y="467.3" font-size="14.7" text-anchor="middle" >(c)</text>
<text transform="translate(22.8,316.2) rotate(-90)" font-size="14.1" text-anchor="middle">Mean flash temperature/ď</text>
</svg>
</body></html>
